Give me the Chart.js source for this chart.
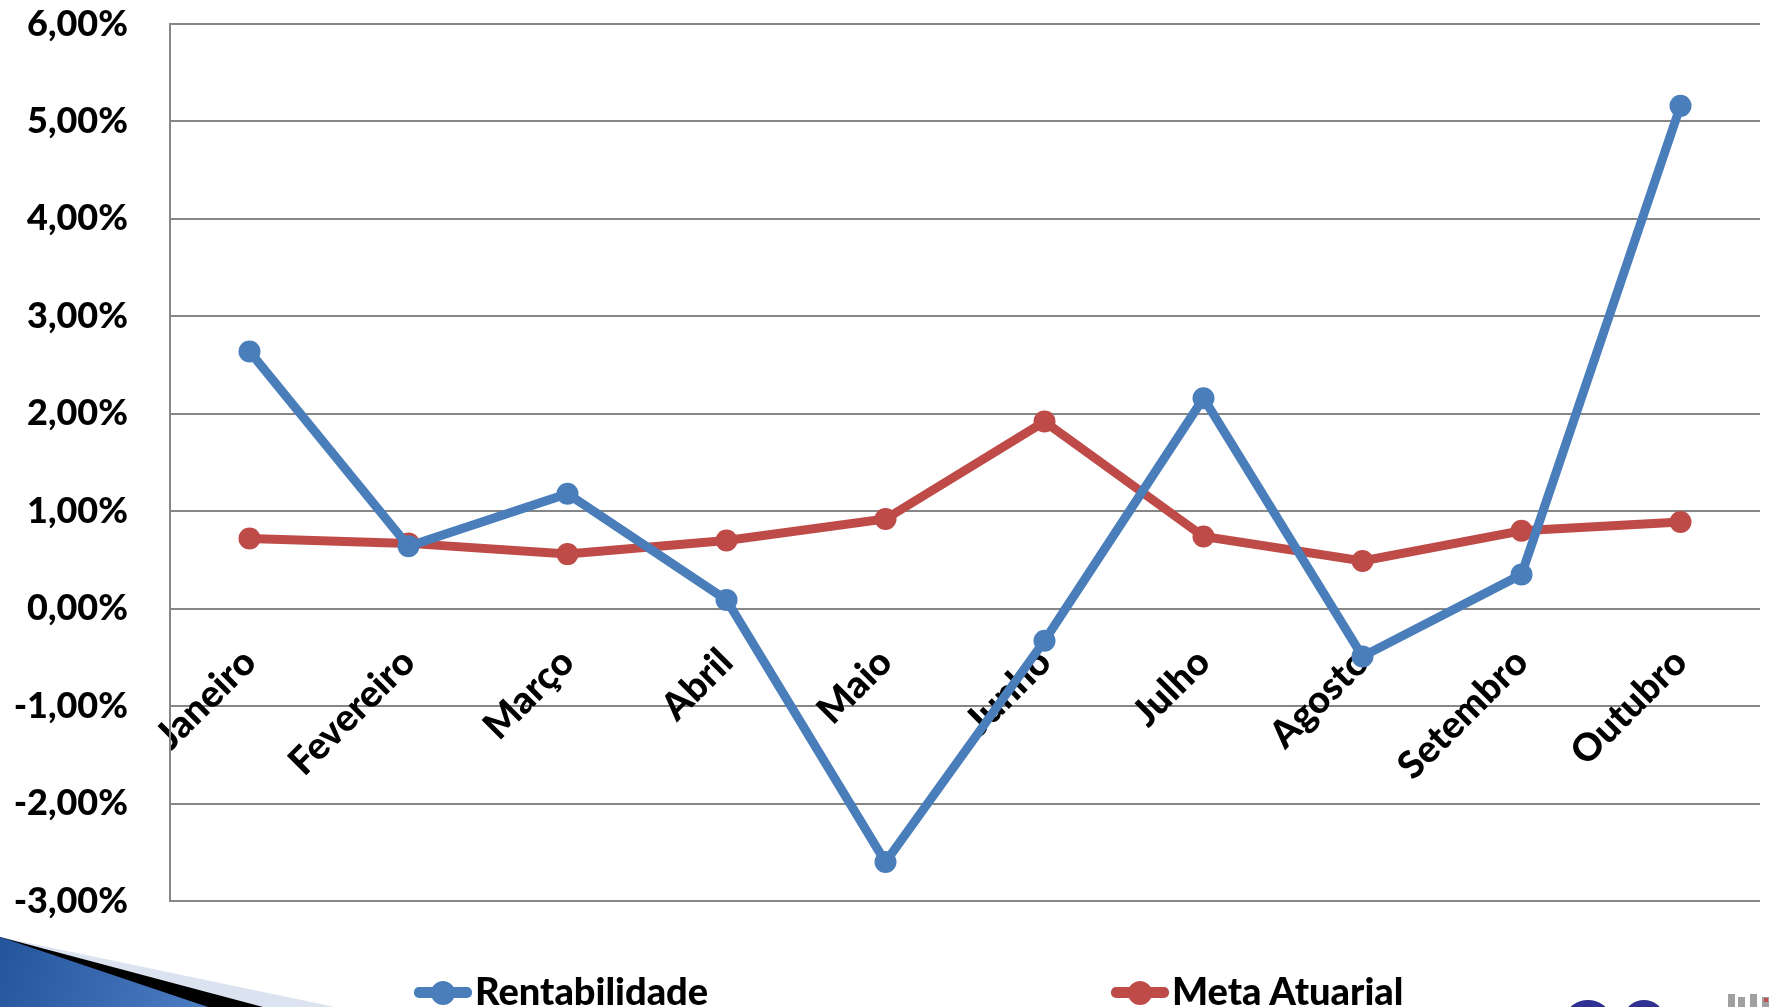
<!DOCTYPE html>
<html lang="pt-BR">
<head>
<meta charset="utf-8">
<title>Rentabilidade x Meta Atuarial</title>
<script src="https://cdn.jsdelivr.net/npm/chart.js@4.4.1/dist/chart.umd.min.js"></script>
<style>
  html, body { margin: 0; padding: 0; background: #fff; overflow: hidden; }
  #wrap { position: relative; width: 1771px; height: 1007px; }
  #legend .item { position: absolute; top: 971px; height: 39px; font: 900 38px Lato, sans-serif; line-height: 39px; color: #000; white-space: nowrap; padding-left: 61px; }
  #legend .bar { position: absolute; left: 0; top: 16px; width: 58px; height: 11px; border-radius: 5px; }
  #legend .dot { position: absolute; left: 17px; top: 10px; width: 24px; height: 24px; border-radius: 50%; }
</style>
</head>
<body>
<div id="wrap">
  <canvas id="chart"></canvas>
  <div id="legend"></div>
</div>
<script>
const months = ['Janeiro', 'Fevereiro', 'Março', 'Abril', 'Maio', 'Junho', 'Julho', 'Agosto', 'Setembro', 'Outubro'];
const rentabilidade = [2.64, 0.64, 1.18, 0.09, -2.60, -0.33, 2.16, -0.49, 0.35, 5.16];
const metaAtuarial = [0.72, 0.67, 0.56, 0.70, 0.92, 1.92, 0.74, 0.49, 0.80, 0.89];
const seriesNames = ['Rentabilidade', 'Meta Atuarial'];
const seriesColors = ['#4a7ebb', '#be4b48'];
const yMin = -3;
const yMax = 6;
const yStep = 1;

Chart.defaults.font.family = 'Lato, sans-serif';
Chart.defaults.color = '#000';

// slide decoration in the bottom corners (not data)
const slideDecor = {
  id: 'slideDecor',
  beforeDraw(chart) {
    const ctx = chart.ctx;
    const h = chart.height;
    ctx.save();
    ctx.fillStyle = '#dbe3f0';
    ctx.beginPath();
    ctx.moveTo(0, 937); ctx.lineTo(335, h); ctx.lineTo(0, h); ctx.closePath();
    ctx.fill();
    ctx.fillStyle = '#000';
    ctx.beginPath();
    ctx.moveTo(0, 937); ctx.lineTo(263, h); ctx.lineTo(0, h); ctx.closePath();
    ctx.fill();
    const g = ctx.createLinearGradient(0, 937, 200, h);
    g.addColorStop(0, '#24559c');
    g.addColorStop(1, '#4b7cc2');
    ctx.fillStyle = g;
    ctx.beginPath();
    ctx.moveTo(0, 937); ctx.lineTo(208, h); ctx.lineTo(0, h); ctx.closePath();
    ctx.fill();
    // logo tips
    ctx.fillStyle = '#2e3192';
    ctx.beginPath();
    ctx.ellipse(1588, h + 9, 21, 16, 0, 0, Math.PI * 2);
    ctx.fill();
    ctx.beginPath();
    ctx.ellipse(1644, h + 9, 19, 16, 0, 0, Math.PI * 2);
    ctx.fill();
    ctx.fillStyle = '#a0a0a0';
    [1728, 1738, 1750, 1762].forEach((x, i) => {
      ctx.fillRect(x, 994 + (i % 2) * 3, 7, 13);
    });
    ctx.fillStyle = '#c0504d';
    ctx.fillRect(1764, 998, 4, 4);
    ctx.restore();
  }
};

const chart = new Chart(document.getElementById('chart'), {
  type: 'line',
  data: {
    labels: months,
    datasets: [{
      label: seriesNames[0],
      data: rentabilidade,
      borderColor: seriesColors[0],
      backgroundColor: seriesColors[0],
      borderWidth: 9,
      pointRadius: 11,
      pointHoverRadius: 11,
      pointBorderWidth: 0,
      tension: 0,
    }, {
      label: seriesNames[1],
      data: metaAtuarial,
      borderColor: seriesColors[1],
      backgroundColor: seriesColors[1],
      borderWidth: 9,
      pointRadius: 11,
      pointHoverRadius: 11,
      pointBorderWidth: 0,
      tension: 0,
    }]
  },
  options: {
    responsive: true,
    maintainAspectRatio: false,
    animation: false,
    layout: {
      padding: { left: 0, right: 8, top: 24, bottom: 106 }
    },
    plugins: {
      legend: { display: false },
      tooltip: { enabled: false }
    },
    scales: {
      x: {
        offset: true,
        position: { y: 0 },
        grid: { display: false, drawTicks: false },
        border: { display: false },
        ticks: {
          minRotation: 45,
          maxRotation: 45,
          padding: 31,
          font: { size: 38, weight: '900' },
          color: '#000'
        }
      },
      y: {
        min: yMin,
        max: yMax,
        afterFit(scale) { scale.width = 170; },
        grid: { color: '#868686', lineWidth: 2, drawTicks: true, tickLength: 42, tickColor: 'rgba(0,0,0,0)' },
        border: { display: true, color: '#868686', width: 2 },
        ticks: {
          stepSize: yStep,
          padding: 0,
          font: { size: 36, weight: '900' },
          color: '#000',
          callback: (v) => v.toFixed(2).replace('.', ',') + '%'
        }
      }
    }
  },
  plugins: [slideDecor]
});

// html legend built from the datasets
const legendLeft = [414, 1111];
const legend = document.getElementById('legend');
chart.data.datasets.forEach((ds, i) => {
  const item = document.createElement('div');
  item.className = 'item';
  item.style.left = legendLeft[i] + 'px';
  item.innerHTML = '<span class="bar"></span><span class="dot"></span>';
  item.querySelector('.bar').style.background = ds.borderColor;
  item.querySelector('.dot').style.background = ds.borderColor;
  item.appendChild(document.createTextNode(ds.label));
  legend.appendChild(item);
});
</script>
</body>
</html>
